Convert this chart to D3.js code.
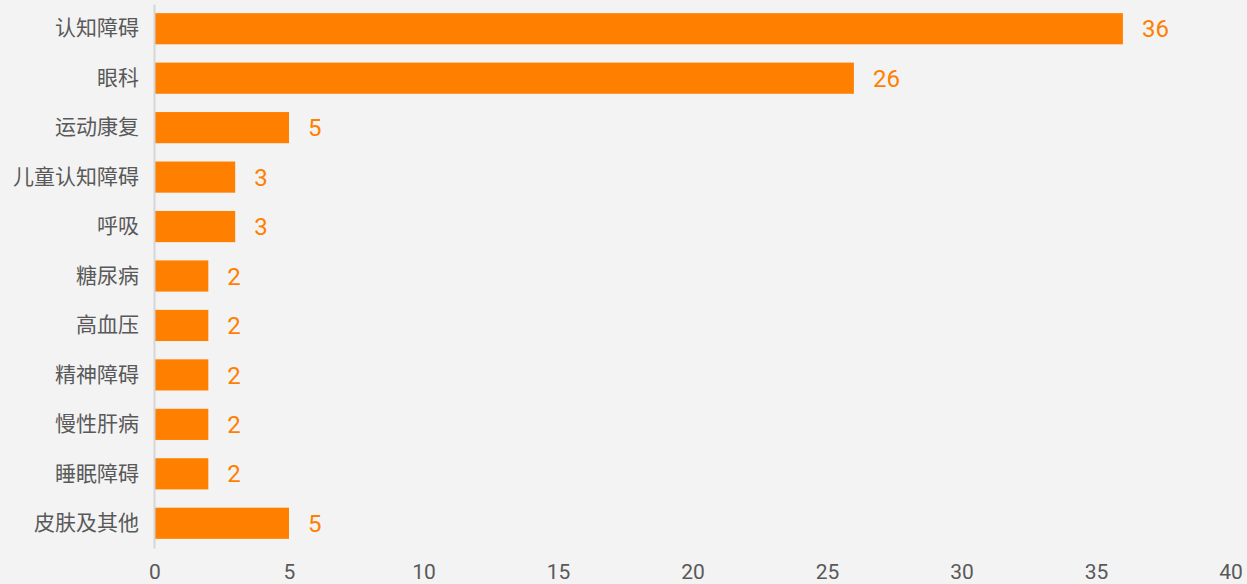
<!DOCTYPE html>
<html>
<head>
<meta charset="utf-8">
<script src="https://cdn.jsdelivr.net/npm/d3@7"></script>
<style>
  html, body { margin: 0; padding: 0; background: #f3f3f3; }
  svg { display: block; }
  text { font-family: Roboto, "Noto Sans CJK SC", sans-serif; }
</style>
</head>
<body>
<svg id="chart" width="1247" height="584"></svg>
<script>
const categories = ["认知障碍", "眼科", "运动康复", "儿童认知障碍", "呼吸", "糖尿病", "高血压", "精神障碍", "慢性肝病", "睡眠障碍", "皮肤及其他"];
const values = [36, 26, 5, 3, 3, 2, 2, 2, 2, 2, 5];
const xTicks = [0, 5, 10, 15, 20, 25, 30, 35, 40];

const svg = d3.select("#chart");

const x = d3.scaleLinear()
  .domain([0, 40])
  .range([154.5, 1230.5]);

const y = d3.scaleBand()
  .domain(categories)
  .range([4, 548])
  .paddingInner(0.37)
  .paddingOuter(0.185);

// bars
svg.append("g")
  .selectAll("rect")
  .data(values)
  .enter().append("rect")
  .attr("x", x(0))
  .attr("y", (d, i) => y(categories[i]))
  .attr("width", d => x(d) - x(0))
  .attr("height", y.bandwidth())
  .attr("fill", "#ff7f00");

// value labels
svg.append("g")
  .selectAll("text")
  .data(values)
  .enter().append("text")
  .attr("x", d => x(d) + 19)
  .attr("y", (d, i) => y(categories[i]) + y.bandwidth() / 2)
  .attr("dy", "0.36em")
  .attr("font-size", 24)
  .attr("fill", "#ff7f00")
  .text(d => d);

// y axis
const yAxis = svg.append("g")
  .attr("transform", `translate(${x(0) - 0.5},0)`)
  .call(d3.axisLeft(y).tickSize(0).tickPadding(15));
yAxis.select(".domain").attr("stroke", "#d6d6d6").attr("stroke-width", 2);
yAxis.selectAll("text")
  .attr("font-size", 21)
  .attr("fill", "#595959")
  .attr("font-family", "'Noto Sans CJK SC', sans-serif");

// x axis
const xAxis = svg.append("g")
  .attr("transform", "translate(0,556)")
  .call(d3.axisBottom(x).tickValues(xTicks).tickSize(0).tickPadding(8));
xAxis.select(".domain").remove();
xAxis.selectAll("text")
  .attr("font-size", 21)
  .attr("fill", "#595959");
</script>
</body>
</html>
